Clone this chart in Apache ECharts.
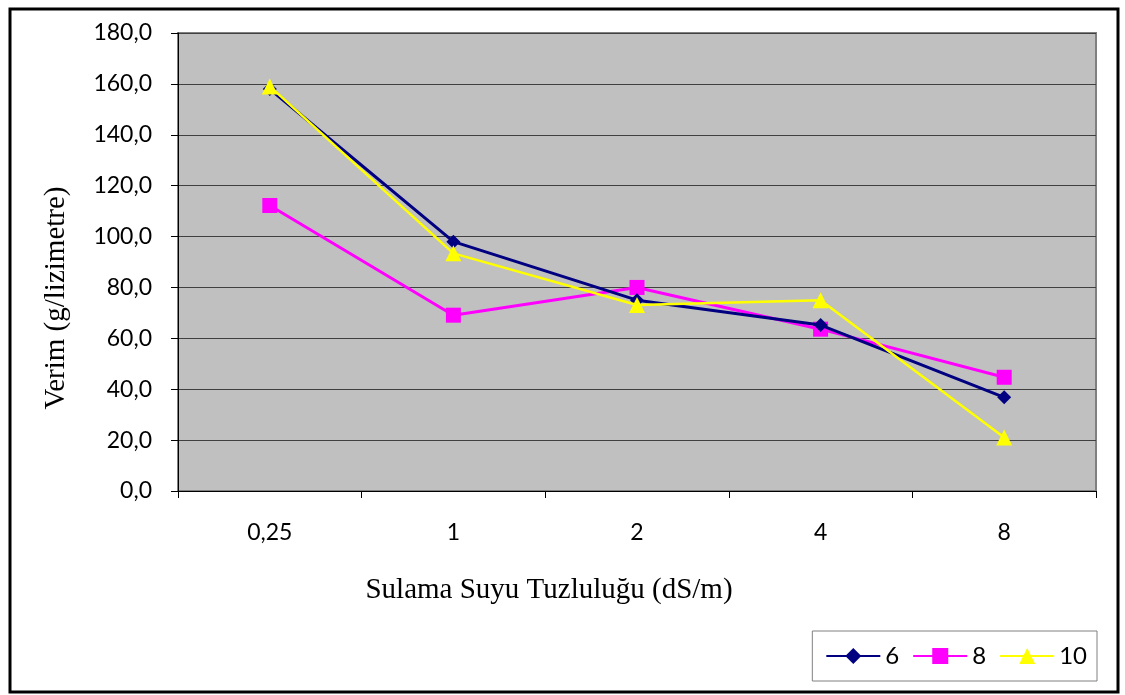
<!DOCTYPE html>
<html>
<head>
<meta charset="utf-8">
<script src="https://cdn.jsdelivr.net/npm/echarts@6/dist/echarts.min.js"></script>
<style>
  html, body { margin: 0; padding: 0; background: #fff; }
  #chart { width: 1125px; height: 695px; }
</style>
</head>
<body>
<div id="chart"></div>
<script>
// Irrigation water salinity levels (dS/m)
const categories = ['0,25', '1', '2', '4', '8'];
// Yield (g/lysimeter) per series
const seriesNames = ['6', '8', '10'];
const yield6 = [158.0, 98.0, 75.0, 65.2, 36.8];
const yield8 = [112.2, 69.1, 80.0, 63.6, 44.7];
const yield10 = [159.0, 93.4, 73.1, 75.0, 21.0];

const xTitle = 'Sulama Suyu Tuzluluğu (dS/m)';
const yTitle = 'Verim (g/lizimetre)';

const colors = ['#000080', '#ff00ff', '#ffff00'];
const symbols = ['diamond', 'rect', 'triangle'];
const symbolSizes = [14, 15, 16];
const values = [yield6, yield8, yield10];

const chart = echarts.init(document.getElementById('chart'));

const fmt = v => v.toFixed(1).replace('.', ',');
const titleFont = { fontFamily: 'Liberation Serif', fontSize: 29, fill: '#000' };

chart.setOption({
  animation: false,
  backgroundColor: '#ffffff',
  graphic: [
    {
      type: 'rect',
      shape: { x: 10, y: 9, width: 1108, height: 683 },
      style: { fill: 'none', stroke: '#000', lineWidth: 3 },
      silent: true
    },
    {
      type: 'text',
      x: 549, y: 590,
      style: Object.assign({ text: xTitle, align: 'center', verticalAlign: 'middle' }, titleFont),
      silent: true
    },
    {
      type: 'text',
      x: 56, y: 298,
      rotation: Math.PI / 2,
      style: Object.assign({ text: yTitle, align: 'center', verticalAlign: 'middle' }, titleFont),
      silent: true
    }
  ],
  grid: {
    left: 178, top: 33, right: 29, bottom: 204,
    show: true,
    backgroundColor: '#c0c0c0',
    borderColor: '#808080',
    borderWidth: 2
  },
  legend: {
    right: 28, bottom: 14,
    orient: 'horizontal',
    itemWidth: 54,
    itemHeight: 20,
    itemGap: 13,
    padding: [13, 10, 13, 13],
    borderColor: '#808080',
    borderWidth: 1,
    backgroundColor: '#fff',
    textStyle: { fontFamily: 'Lato', fontSize: 24, color: '#000' },
    data: seriesNames
  },
  xAxis: {
    type: 'category',
    data: categories,
    boundaryGap: true,
    axisLine: { show: true, lineStyle: { color: '#000', width: 1 } },
    axisTick: { show: true, length: 7, lineStyle: { color: '#000' } },
    axisLabel: { fontFamily: 'Lato', fontSize: 23, color: '#000', margin: 30 },
    splitLine: { show: false }
  },
  yAxis: {
    type: 'value',
    min: 0, max: 180, interval: 20,
    axisLine: { show: true, lineStyle: { color: '#000', width: 1 } },
    axisTick: { show: true, length: 7, lineStyle: { color: '#000' } },
    axisLabel: { fontFamily: 'Lato', fontSize: 23, color: '#000', margin: 26, formatter: fmt },
    splitLine: { show: true, lineStyle: { color: '#404040', width: 1 } }
  },
  series: seriesNames.map((name, i) => ({
    name: name,
    type: 'line',
    data: values[i],
    symbol: symbols[i],
    symbolSize: symbolSizes[i],
    showAllSymbol: true,
    z: 2 + (i === 0 ? 2 : i === 1 ? 1 : 3),
    lineStyle: { color: colors[i], width: i === 2 ? 2.5 : 3 },
    itemStyle: { color: colors[i], borderWidth: 0 }
  }))
});
</script>
</body>
</html>
